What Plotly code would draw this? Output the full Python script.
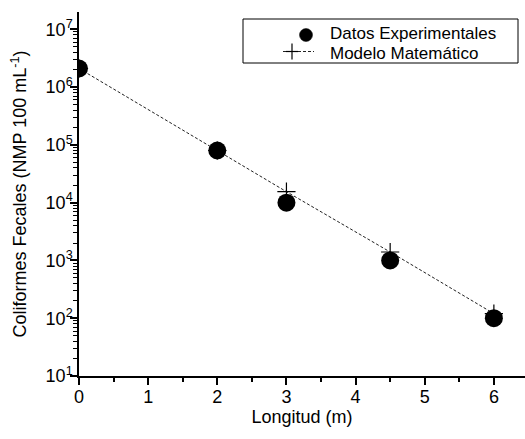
import plotly.graph_objects as go

# Distance along the channel (m)
longitud = [0, 2, 3, 4.5, 6]
# Measured fecal coliforms (NMP/100 mL)
datos_experimentales = [2.1e6, 8.0e4, 1.0e4, 1.0e3, 1.0e2]
# Model prediction (NMP/100 mL)
modelo_matematico = [2.1e6, 8.0e4, 1.55e4, 1.4e3, 1.2e2]

y_tick_vals = [1e1, 1e2, 1e3, 1e4, 1e5, 1e6, 1e7]
y_tick_text = ["10<sup>1</sup>", "10<sup>2</sup>", "10<sup>3</sup>", "10<sup>4</sup>",
               "10<sup>5</sup>", "10<sup>6</sup>", "10<sup>7</sup>"]
x_tick_vals = [0, 1, 2, 3, 4, 5, 6]

series_names = ["Datos Experimentales", "Modelo Matemático"]

FONT = "Liberation Sans, Arial, sans-serif"
W, H = 525, 439
ML, MR, MT, MB = 79, 0, 12, 63
PW, PH = W - ML - MR, H - MT - MB


def px_x(v):
    return (v - ML) / PW


def px_y(v):
    return (H - MB - v) / PH


fig = go.Figure()
# Model drawn first so the measured points sit on top of it
fig.add_trace(go.Scatter(
    x=longitud, y=modelo_matematico, mode="lines+markers",
    name=series_names[1],
    line=dict(color="#222222", width=1, dash="3px,2px"),
    marker=dict(symbol="cross-thin", size=13, color="black",
                line=dict(color="black", width=1.2)),
))
fig.add_trace(go.Scatter(
    x=longitud, y=datos_experimentales, mode="markers",
    name=series_names[0],
    marker=dict(symbol="circle", size=18, color="black"),
))

axis_common = dict(
    showline=True, linecolor="black", linewidth=1.5,
    ticks="outside", tickcolor="black", tickwidth=1.5, ticklen=7,
    showgrid=False, zeroline=False, mirror=False,
    tickfont=dict(family=FONT, size=18, color="black"),
)

fig.update_xaxes(
    **axis_common,
    range=[0, 6.45], tickvals=x_tick_vals, ticklabelstandoff=-3,
    minor=dict(ticks="outside", ticklen=4, tickwidth=1.5, tickcolor="black", dtick=0.5, showgrid=False),
    title=dict(text="Longitud (m)", font=dict(family=FONT, size=18, color="black"), standoff=2),
)
fig.update_yaxes(
    **axis_common,
    type="log", range=[1, 7.3], tickvals=y_tick_vals, ticktext=y_tick_text,
    ticklabelstandoff=-6,
    minor=dict(ticks="outside", ticklen=4, tickwidth=1.2, tickcolor="black", dtick="D1", showgrid=False),
    title=dict(text="Coliformes Fecales (NMP 100 mL<sup>-1</sup>)",
               font=dict(family=FONT, size=18, color="black"), standoff=14),
)

# Legend: frame, symbols and labels
legend_shapes = [
    dict(type="rect", x0=px_x(243), x1=px_x(518), y0=px_y(63), y1=px_y(19),
         line=dict(color="black", width=1), fillcolor="white", layer="below"),
    dict(type="circle", x0=px_x(299.5), x1=px_x(312.5), y0=px_y(41.5), y1=px_y(28.5),
         line=dict(color="black", width=0.5), fillcolor="black"),
    dict(type="line", x0=px_x(283), x1=px_x(314), y0=px_y(51.5), y1=px_y(51.5),
         line=dict(color="#222222", width=1, dash="3px,2px")),
    dict(type="line", x0=px_x(286), x1=px_x(298), y0=px_y(51.5), y1=px_y(51.5),
         line=dict(color="black", width=1.2)),
    dict(type="line", x0=px_x(292), x1=px_x(292), y0=px_y(43.5), y1=px_y(59.5),
         line=dict(color="black", width=1.2)),
]
for s in legend_shapes:
    fig.add_shape(xref="paper", yref="paper", **s)

for name, yc, anchor in zip(series_names, [44, 43], ["bottom", "top"]):
    fig.add_annotation(
        xref="paper", yref="paper", x=px_x(329), y=px_y(yc),
        xanchor="left", yanchor=anchor, showarrow=False,
        text=name, font=dict(family=FONT, size=17, color="black"),
        borderpad=0,
    )

fig.update_layout(
    width=W, height=H,
    margin=dict(l=ML, r=MR, t=MT, b=MB),
    paper_bgcolor="white", plot_bgcolor="white",
    font=dict(family=FONT, color="black"),
    showlegend=False,
)

fig.write_html("out.html")
